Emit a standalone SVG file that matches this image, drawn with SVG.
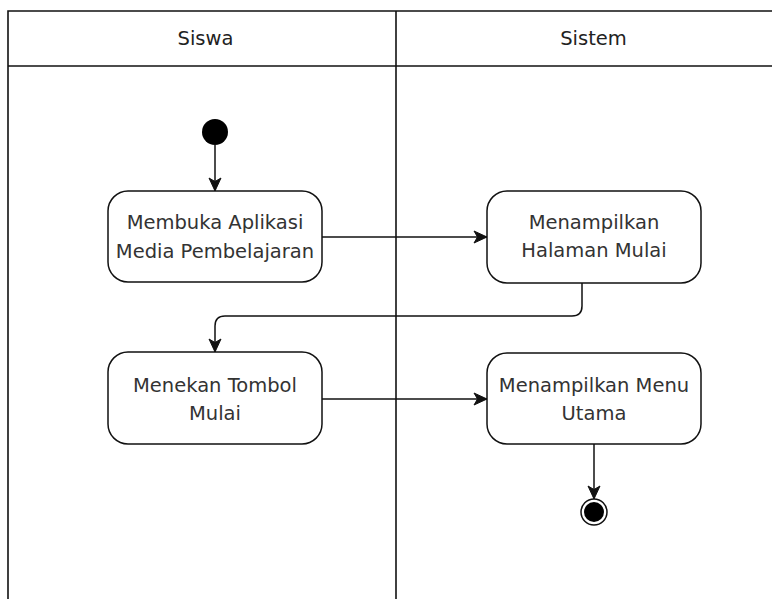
<svg xmlns="http://www.w3.org/2000/svg" width="772" height="599" viewBox="0 0 772 599">
  <defs>
    <style>
      .lane { fill: none; stroke: #111; stroke-width: 1.6; }
      .hdr { font-family: "DejaVu Sans", Verdana, sans-serif; font-size: 19.5px; fill: #222; text-anchor: middle; }
      .act rect { fill: #fff; stroke: #111; stroke-width: 1.5; }
      .act text { font-family: "DejaVu Sans", Verdana, sans-serif; font-size: 19.5px; fill: #333; text-anchor: middle; }
      .edge { fill: none; stroke: #111; stroke-width: 1.5; }
    </style>
    <marker id="arrow" markerUnits="userSpaceOnUse" markerWidth="16" markerHeight="16" viewBox="-14 -8 16 16" refX="0" refY="0" orient="auto">
      <path d="M-13,-6 L0,0 L-13,6 L-9.5,0 Z" fill="#111" stroke="#111" stroke-width="1"/>
    </marker>
  </defs>

  <rect width="772" height="599" fill="#fff"/>

  <!-- swimlanes -->
  <g id="lanes">
    <path class="lane" d="M8,599 V11 H772"/>
    <path class="lane" d="M8,66 H772"/>
    <path class="lane" d="M396,11 V599"/>
    <text class="hdr" x="205.5" y="45">Siswa</text>
    <text class="hdr" x="593.5" y="45">Sistem</text>
  </g>

  <!-- start -->
  <g id="start">
    <circle cx="215" cy="132" r="13" fill="#000"/>
  </g>

  <g id="membuka" class="act">
    <rect x="108" y="191" width="214" height="91" rx="20" ry="20"/>
    <text x="215" y="229">Membuka Aplikasi</text>
    <text x="215" y="258">Media Pembelajaran</text>
  </g>

  <g id="halaman" class="act">
    <rect x="487" y="191" width="214" height="92" rx="20" ry="20"/>
    <text x="594" y="229">Menampilkan</text>
    <text x="594" y="257">Halaman Mulai</text>
  </g>

  <g id="tombol" class="act">
    <rect x="108" y="352" width="214" height="92" rx="20" ry="20"/>
    <text x="215" y="392">Menekan Tombol</text>
    <text x="215" y="420">Mulai</text>
  </g>

  <g id="menu" class="act">
    <rect x="487" y="353" width="214" height="91" rx="20" ry="20"/>
    <text x="594" y="392">Menampilkan Menu</text>
    <text x="594" y="420">Utama</text>
  </g>

  <!-- end -->
  <g id="end">
    <circle cx="594" cy="512" r="13" fill="#fff" stroke="#111" stroke-width="1.5"/>
    <circle cx="594" cy="512" r="10" fill="#000"/>
  </g>

  <!-- connectors -->
  <g id="connectors">
    <path class="edge" d="M215,145 V191" marker-end="url(#arrow)"/>
    <path class="edge" d="M322,237 H487" marker-end="url(#arrow)"/>
    <path class="edge" d="M582,283 V306 Q582,316 572,316 H225 Q215,316 215,326 V352" marker-end="url(#arrow)"/>
    <path class="edge" d="M322,399 H487" marker-end="url(#arrow)"/>
    <path class="edge" d="M594,444 V499" marker-end="url(#arrow)"/>
  </g>
</svg>
